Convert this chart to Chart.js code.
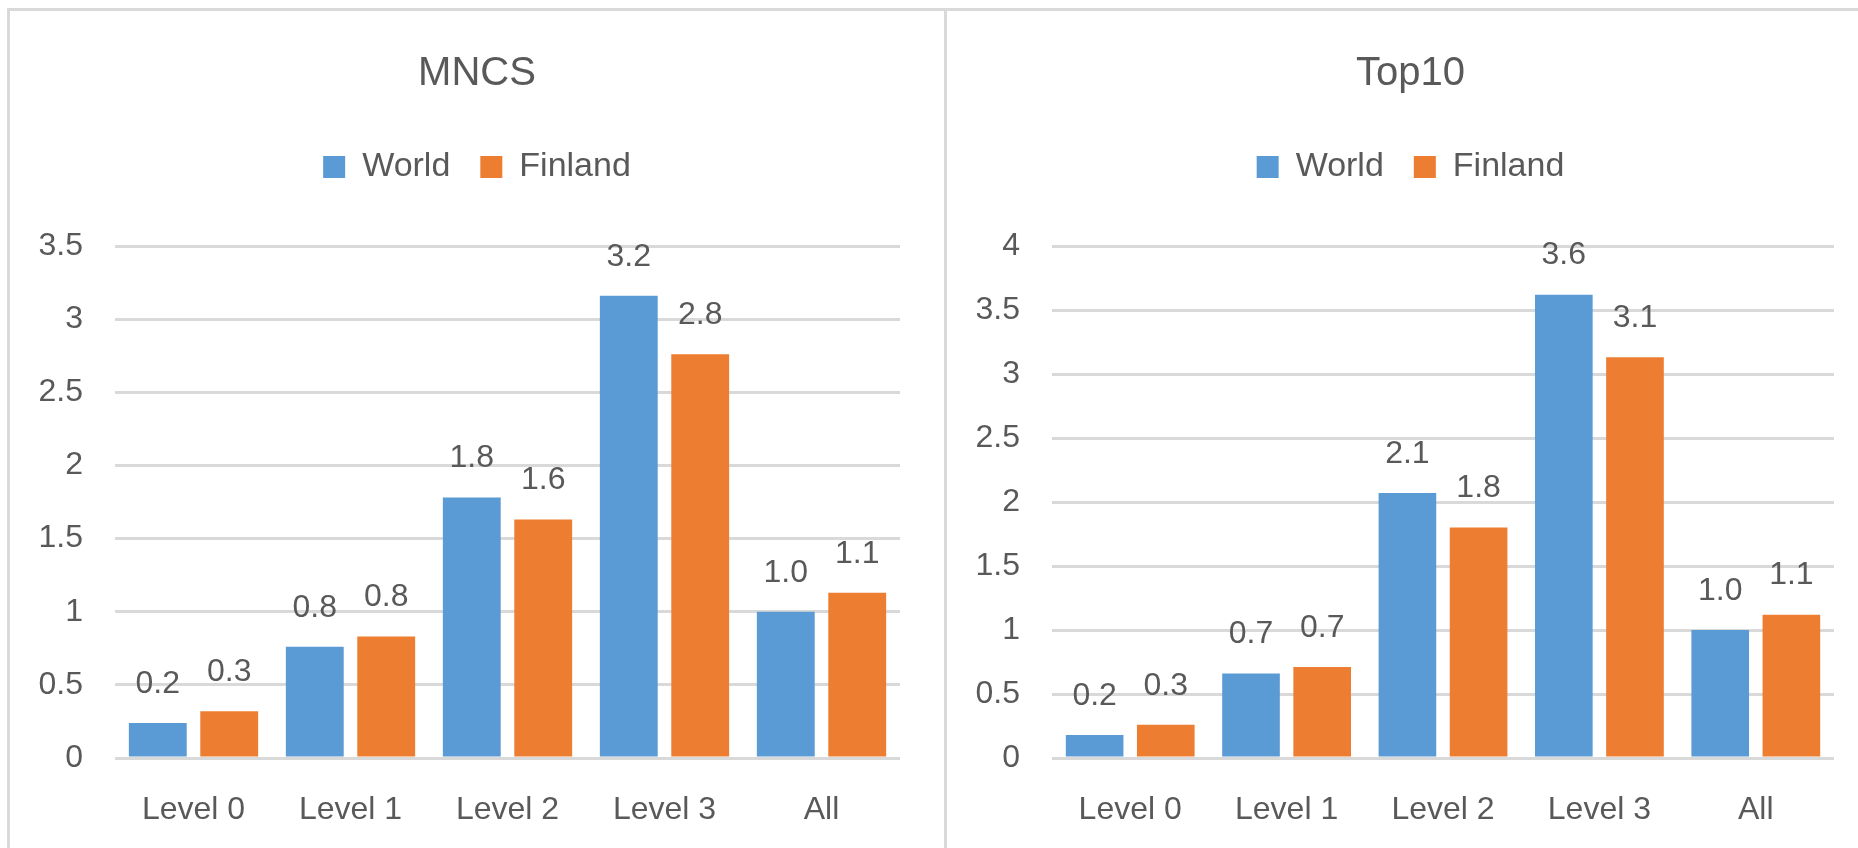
<!DOCTYPE html>
<html>
<head>
<meta charset="utf-8">
<script src="https://cdn.jsdelivr.net/npm/chart.js@4"></script>
<style>
  html, body { margin: 0; padding: 0; background: #fff; overflow: hidden; width: 1858px; height: 848px; }
  .panel { position: absolute; top: 8px; height: 840px; box-sizing: border-box; border: 3px solid #d9d9d9; border-bottom: none; background: #fff; }
  #left-panel { left: 7px; width: 940px; }
  #right-panel { left: 944px; width: 930px; border-right: none; }
  .inner { position: relative; width: 100%; height: 100%; }
</style>
</head>
<body>
<div class="panel" id="left-panel"><div class="inner"><canvas id="mncsChart"></canvas></div></div>
<div class="panel" id="right-panel"><div class="inner"><canvas id="top10Chart"></canvas></div></div>

<script>
// Data
const categories = ['Level 0', 'Level 1', 'Level 2', 'Level 3', 'All'];
const seriesNames = ['World', 'Finland'];

const mncsWorld = [0.24, 0.76, 1.78, 3.16, 1.0];
const mncsFinland = [0.32, 0.83, 1.63, 2.76, 1.13];

const top10World = [0.18, 0.66, 2.07, 3.62, 1.0];
const top10Finland = [0.26, 0.71, 1.80, 3.13, 1.12];

// Style
const FONT = '"Liberation Sans", Arial, sans-serif';
const TEXT_COLOR = '#595959';
const GRID_COLOR = '#d9d9d9';
const COLORS = ['#5B9BD5', '#ED7D31'];

// Value labels above each bar
const barValueLabels = {
  id: 'barValueLabels',
  afterDatasetsDraw(chart) {
    const { ctx } = chart;
    ctx.save();
    ctx.font = '32px ' + FONT;
    ctx.fillStyle = TEXT_COLOR;
    ctx.textAlign = 'center';
    ctx.textBaseline = 'middle';
    chart.data.datasets.forEach((ds, i) => {
      chart.getDatasetMeta(i).data.forEach((bar, j) => {
        ctx.fillText(ds.data[j].toFixed(1), bar.x, bar.y - 39);
      });
    });
    ctx.restore();
  }
};

function makeChart(id, title, world, finland, yMax, axisLeft, axisRight) {
  return new Chart(document.getElementById(id), {
    type: 'bar',
    data: {
      labels: categories,
      datasets: [world, finland].map((data, i) => ({
        label: seriesNames[i],
        data,
        backgroundColor: COLORS[i],
        categoryPercentage: 0.91,
        barPercentage: 0.81
      }))
    },
    options: {
      responsive: true,
      maintainAspectRatio: false,
      animation: false,
      layout: { padding: 0 },
      plugins: {
        title: {
          display: true,
          text: title,
          color: TEXT_COLOR,
          font: { family: FONT, size: 40, weight: 'normal', lineHeight: 1.2 },
          padding: { top: 39, bottom: 22 }
        },
        legend: {
          position: 'top',
          labels: {
            color: TEXT_COLOR,
            font: { family: FONT, size: 34 },
            boxWidth: 22,
            boxHeight: 22,
            padding: 30
          }
        },
        // empty spacer between legend and plot area
        subtitle: {
          display: true,
          text: '',
          weight: 500,
          font: { size: 12, lineHeight: 1 },
          padding: { top: 40, bottom: 0 }
        },
        tooltip: { enabled: false }
      },
      scales: {
        x: {
          grid: { display: false },
          border: { display: false },
          ticks: { color: TEXT_COLOR, font: { family: FONT, size: 32 }, padding: 25 },
          afterFit: s => { s.height = 90; }
        },
        y: {
          min: 0,
          max: yMax,
          grid: { color: GRID_COLOR, lineWidth: 3, drawTicks: false },
          border: { display: false },
          ticks: {
            stepSize: 0.5,
            color: TEXT_COLOR,
            font: { family: FONT, size: 32 },
            padding: 32,
            callback: v => String(v)
          },
          afterFit: s => { s.width = axisLeft; }
        },
        // blank margin on the right so the title centres on the whole panel
        yRight: {
          position: 'right',
          grid: { display: false },
          border: { display: false },
          ticks: { display: false },
          afterFit: s => { s.width = axisRight; }
        }
      }
    },
    plugins: [barValueLabels]
  });
}

makeChart('mncsChart', 'MNCS', mncsWorld, mncsFinland, 3.5, 105, 44);
makeChart('top10Chart', 'Top10', top10World, top10Finland, 4, 105, 40);
</script>
</body>
</html>
